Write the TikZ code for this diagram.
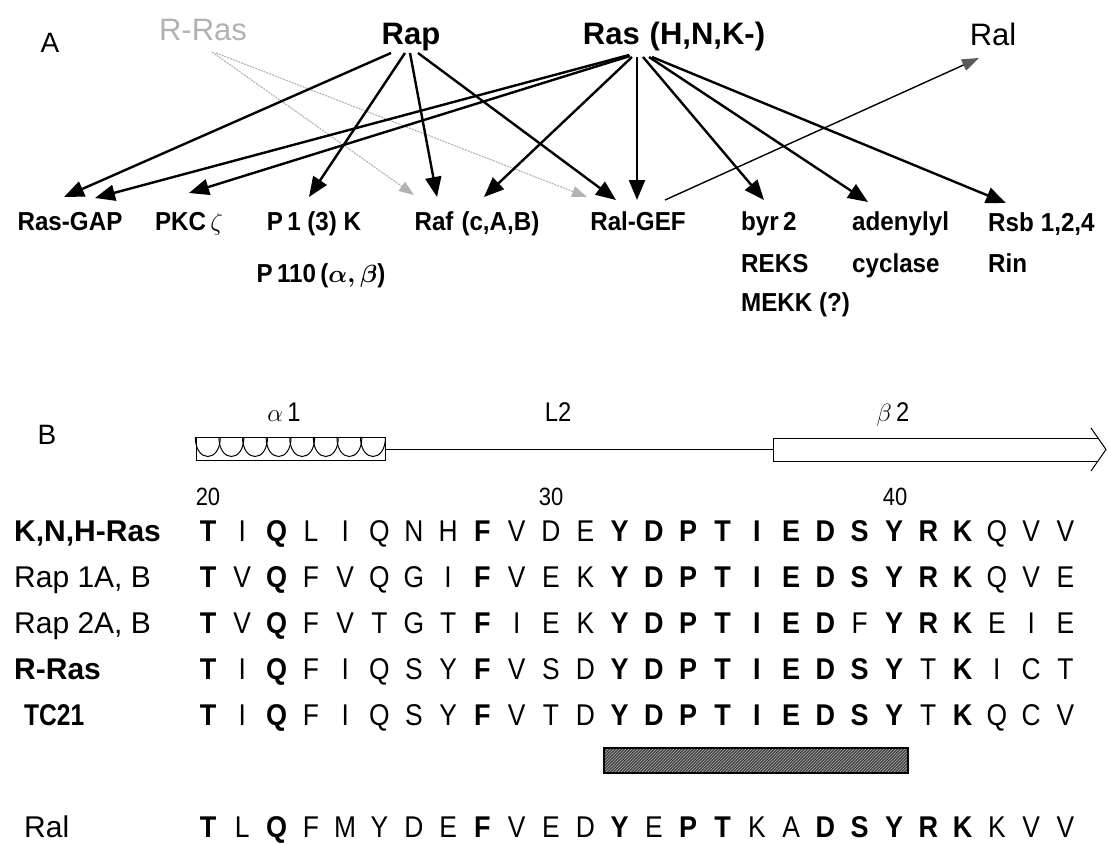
\documentclass[tikz,border=0pt]{standalone}
\usepackage{fontspec}
\setmainfont{Liberation Sans}
\newfontfamily\lightf[FakeStretch=0.88]{Liberation Sans}
\newfontfamily\boldnf[FakeStretch=0.9]{Liberation Sans Bold}
\newfontfamily\condf[FakeStretch=0.82]{Liberation Sans Bold}
\newfontfamily\labf[FakeStretch=0.93]{Liberation Sans Bold}
\usetikzlibrary{arrows.meta,patterns}
\newcommand\sqb{\fontsize{30}{33}\selectfont\boldnf}
\newcommand\sql{\fontsize{30}{33}\selectfont\lightf}
\newcommand\seqrow[3]{%
  \foreach \wt/\ch [count=\i from 0] in {#3}{%
    \node[seqn] (#1\i) at ({208+34.3*\i},#2) {\csname sq\wt\endcsname\ch};}}
\begin{document}
\begin{tikzpicture}[x=1pt,y=-1pt,
  lab/.style={font=\fontsize{26}{30}\selectfont\labf, inner sep=0pt, anchor=base},
  labw/.style={lab, anchor=base west},
  toplab/.style={font=\fontsize{31}{36}\selectfont\bfseries, inner sep=0pt, anchor=base},
  panel/.style={font=\fontsize{28}{32}\selectfont, inner sep=0pt, anchor=base},
  rowlab/.style={font=\fontsize{30}{33}\selectfont\bfseries, inner sep=0pt, anchor=base west},
  rowlabr/.style={font=\fontsize{30}{33}\selectfont, inner sep=0pt, anchor=base west},
  sslab/.style={font=\fontsize{27}{30}\selectfont\lightf, inner sep=0pt, anchor=base},
  seqn/.style={inner sep=0pt, anchor=base},
  arr/.style={line width=2.4pt, -{Triangle[length=20pt,width=16pt]}},
  garr/.style={gray!60, line width=1.1pt, dash pattern=on 2pt off 1pt, -{Triangle[length=15pt,width=11pt]}},
  thinarr/.style={line width=1.4pt, -{Triangle[length=17pt,width=12pt,color=black!65]}},
  ss/.style={line width=1pt}
]
\useasboundingbox (0,0) rectangle (1108,844);

% ---------- Panel A ----------
\node[panel] (nA) at (50,52) {A};
\node[toplab, font=\fontsize{31}{36}\selectfont, text=gray!60] (nRRas) at (203,40) {R-Ras};
\node[toplab] (nRap) at (411,44) {Rap};
\node[toplab] (nRas) at (674,44) {Ras\hspace{10pt}(H,N,K-)};
\node[toplab, font=\fontsize{31}{36}\selectfont] (nRal) at (993,45) {Ral};

\node[lab] (nGAP) at (70,230) {Ras-GAP};
\node[lab] (nPKC) at (189,230) {PKC\,$\zeta$};
\node[lab] (nPI3K) at (314,230) {P\,1 (3) K};
\node[lab] (nP110) at (321,282) {P\,110\,({\boldmath$\alpha,\beta$})};
\node[lab] (nRaf) at (477,230) {Raf\hspace{8pt}(c,A,B)};
\node[lab] (nRalGEF) at (638,230) {Ral-GEF};
\node[labw] (nByr) at (741,230) {byr\,2};
\node[labw] (nReks) at (741,272) {REKS};
\node[labw] (nMekk) at (741,311) {MEKK (?)};
\node[labw] (nAden) at (852,230) {adenylyl};
\node[labw] (nCycl) at (852,272) {cyclase};
\node[labw] (nRsb) at (988,231) {Rsb\hspace{7pt}1,2,4};
\node[labw] (nRin) at (988,272) {Rin};

% arrow end points
\coordinate (rap1) at (391,53);  \coordinate (tGAP1) at (64,197);
\coordinate (rap2) at (405,53);  \coordinate (tPI3K) at (309,197);
\coordinate (rap3) at (410,53);  \coordinate (tRaf1) at (437,197);
\coordinate (rap4) at (418,53);  \coordinate (tGEF1) at (616,200);
\coordinate (ras1) at (629,55);  \coordinate (tGAP2) at (95,198);
\coordinate (ras2) at (630,56);  \coordinate (tPKC) at (189,193);
\coordinate (ras3) at (632,57);  \coordinate (tRaf2) at (484,197);
\coordinate (ras4) at (637,57);  \coordinate (tGEF2) at (637,200);
\coordinate (ras5) at (643,57);  \coordinate (tByr) at (764,200);
\coordinate (ras6) at (649,57);  \coordinate (tAden) at (868,202);
\coordinate (ras7) at (652,57);  \coordinate (tRsb) at (1006,203);
\coordinate (rr1) at (212,52);   \coordinate (tRafG) at (414,195);
\coordinate (rr2) at (216,53);   \coordinate (tGEFG) at (587,197);
\coordinate (gef0) at (665,200); \coordinate (tRal) at (979,58);

\draw[garr] (rr1) -- (tRafG);
\draw[garr] (rr2) -- (tGEFG);
\draw[arr] (rap1) -- (tGAP1);
\draw[arr] (rap2) -- (tPI3K);
\draw[arr] (rap3) -- (tRaf1);
\draw[arr] (rap4) -- (tGEF1);
\draw[arr] (ras1) -- (tGAP2);
\draw[arr] (ras2) -- (tPKC);
\draw[arr] (ras3) -- (tRaf2);
\draw[arr] (ras4) -- (tGEF2);
\draw[arr] (ras5) -- (tByr);
\draw[arr] (ras6) -- (tAden);
\draw[arr] (ras7) -- (tRsb);
\draw[thinarr] (gef0) -- (tRal);

% ---------- Panel B ----------
\node[panel] (nB) at (47,444) {B};
\node[sslab] (nAlpha) at (284,421) {$\alpha$\,1};
\node[sslab] (nL2) at (558,421) {L2};
\node[sslab] (nBeta) at (893,421) {$\beta$\,2};

% helix
\draw[ss] (196,437) rectangle (385,460);
\foreach \k in {0,...,7}{
  \draw[ss] ({207.8+23.6*\k-12.5},437) .. controls ({207.8+23.6*\k-12.5},463) and ({207.8+23.6*\k+12.5},463) .. ({207.8+23.6*\k+12.5},437);
}
% loop L2
\draw[ss] (385,449) -- (773,449);
% beta strand
\draw[ss] (1098,438) -- (773,438) -- (773,461) -- (1098,461);
\draw[ss] (1091,428) -- (1106,449.5) -- (1091,471);

\node[sslab, font=\fontsize{25}{28}\selectfont\lightf] (n20) at (208,505) {20};
\node[sslab, font=\fontsize{25}{28}\selectfont\lightf] (n30) at (551,505) {30};
\node[sslab, font=\fontsize{25}{28}\selectfont\lightf] (n40) at (895,505) {40};

% row labels
\node[rowlab]  (L1) at (14,541) {K,N,H-Ras};
\node[rowlabr] (L2) at (14,587) {Rap 1A, B};
\node[rowlabr] (L3) at (14,633) {Rap 2A, B};
\node[rowlab]  (L4) at (14,679) {R-Ras};
\node[rowlab, font=\fontsize{30}{33}\selectfont\condf] (L5) at (24,725) {TC21};
\node[rowlabr] (L6) at (24,837) {Ral};

\seqrow{ra}{541}{b/T,l/I,b/Q,l/L,l/I,l/Q,l/N,l/H,b/F,l/V,l/D,l/E,b/Y,b/D,b/P,b/T,b/I,b/E,b/D,b/S,b/Y,b/R,b/K,l/Q,l/V,l/V}
\seqrow{rb}{587}{b/T,l/V,b/Q,l/F,l/V,l/Q,l/G,l/I,b/F,l/V,l/E,l/K,b/Y,b/D,b/P,b/T,b/I,b/E,b/D,b/S,b/Y,b/R,b/K,l/Q,l/V,l/E}
\seqrow{rc}{633}{b/T,l/V,b/Q,l/F,l/V,l/T,l/G,l/T,b/F,l/I,l/E,l/K,b/Y,b/D,b/P,b/T,b/I,b/E,b/D,l/F,b/Y,b/R,b/K,l/E,l/I,l/E}
\seqrow{rd}{679}{b/T,l/I,b/Q,l/F,l/I,l/Q,l/S,l/Y,b/F,l/V,l/S,l/D,b/Y,b/D,b/P,b/T,b/I,b/E,b/D,b/S,b/Y,l/T,b/K,l/I,l/C,l/T}
\seqrow{re}{725}{b/T,l/I,b/Q,l/F,l/I,l/Q,l/S,l/Y,b/F,l/V,l/T,l/D,b/Y,b/D,b/P,b/T,b/I,b/E,b/D,b/S,b/Y,l/T,b/K,l/Q,l/C,l/V}
\seqrow{rf}{837}{b/T,l/L,b/Q,l/F,l/M,l/Y,l/D,l/E,b/F,l/V,l/E,l/D,b/Y,l/E,b/P,b/T,l/K,l/A,b/D,b/S,b/Y,b/R,b/K,l/K,l/V,l/V}

% hatched bar
\fill[black!75] (604,748) rectangle (908,773);
\fill[pattern=north east lines, pattern color=white!70!black] (604,748) rectangle (908,773);
\draw[line width=1.2pt] (604,748) rectangle (908,773);
\end{tikzpicture}
\end{document}
